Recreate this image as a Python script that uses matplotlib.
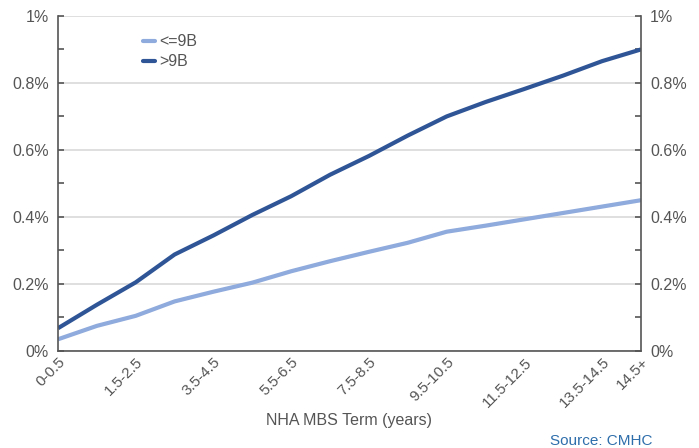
import numpy as np
import matplotlib.pyplot as plt
from matplotlib.ticker import MultipleLocator, FuncFormatter

plt.rcParams['font.family'] = ['Liberation Sans', 'DejaVu Sans']

# categories (term buckets)
terms = ['0-0.5', '0.5-1.5', '1.5-2.5', '2.5-3.5', '3.5-4.5', '4.5-5.5', '5.5-6.5',
         '6.5-7.5', '7.5-8.5', '8.5-9.5', '9.5-10.5', '10.5-11.5', '11.5-12.5',
         '12.5-13.5', '13.5-14.5', '14.5+']
small_pools = [0.035, 0.075, 0.105, 0.148, 0.177, 0.204, 0.238, 0.268, 0.296, 0.323,
               0.356, 0.374, 0.393, 0.412, 0.431, 0.450]
large_pools = [0.068, 0.138, 0.205, 0.288, 0.345, 0.406, 0.462, 0.526, 0.582, 0.643,
               0.700, 0.743, 0.782, 0.822, 0.865, 0.900]
shown_labels = ['0-0.5', '1.5-2.5', '3.5-4.5', '5.5-6.5', '7.5-8.5', '9.5-10.5',
                '11.5-12.5', '13.5-14.5', '14.5+']

grey = '#555555'
fig = plt.figure(figsize=(6.99, 4.48), dpi=100)
ax = fig.add_axes([0.083, 0.2165, 0.834, 0.748])

x = np.arange(len(terms))
ax.plot(x, small_pools, color='#8FAADC', lw=3, label='<=9B', solid_capstyle='butt')
ax.plot(x, large_pools, color='#2F5597', lw=3, label='>9B', solid_capstyle='butt')

ax.set_xlim(0, len(terms) - 1)
ax.set_ylim(0, 1.0)
ax.yaxis.set_major_locator(MultipleLocator(0.2))
ax.yaxis.set_minor_locator(MultipleLocator(0.1))
ax.yaxis.set_major_formatter(FuncFormatter(lambda v, p: f'{v:g}%'))
ax.grid(axis='y', which='major', color='#d9d9d9', lw=1.2)
ax.set_axisbelow(True)

tick_pos = [terms.index(t) for t in shown_labels]
ax.set_xticks(tick_pos)
ax.set_xticklabels(shown_labels, rotation=45, ha='right', va='top',
                   rotation_mode='anchor')
ax.tick_params(axis='x', length=0, pad=3, labelsize=11, colors=grey)
ax.tick_params(axis='y', which='both', direction='in', length=4, width=1.2,
               left=True, right=True, labelleft=True, labelright=True,
               labelsize=11.5, colors=grey, color=grey, pad=6.5)

for s in ['left', 'right', 'bottom']:
    ax.spines[s].set_color(grey)
    ax.spines[s].set_linewidth(1.2)
ax.spines['top'].set_visible(False)

ax.set_xlabel('NHA MBS Term (years)', color=grey, fontsize=11.5)
ax.xaxis.set_label_coords(0.5, -0.184)

leg = ax.legend(loc='upper left', bbox_to_anchor=(0.146, 0.945), frameon=False,
                borderpad=0, borderaxespad=0, handlelength=0.75, handletextpad=0.25,
                labelspacing=0.3, fontsize=11.5, labelcolor=grey)
for h in leg.get_lines():
    h.set_solid_capstyle('round')

fig.text(0.933, 0.0156, 'Source: CMHC', ha='right', va='center', color='#2E6EAB',
         fontsize=11)

fig.savefig('out.png', dpi=100)
